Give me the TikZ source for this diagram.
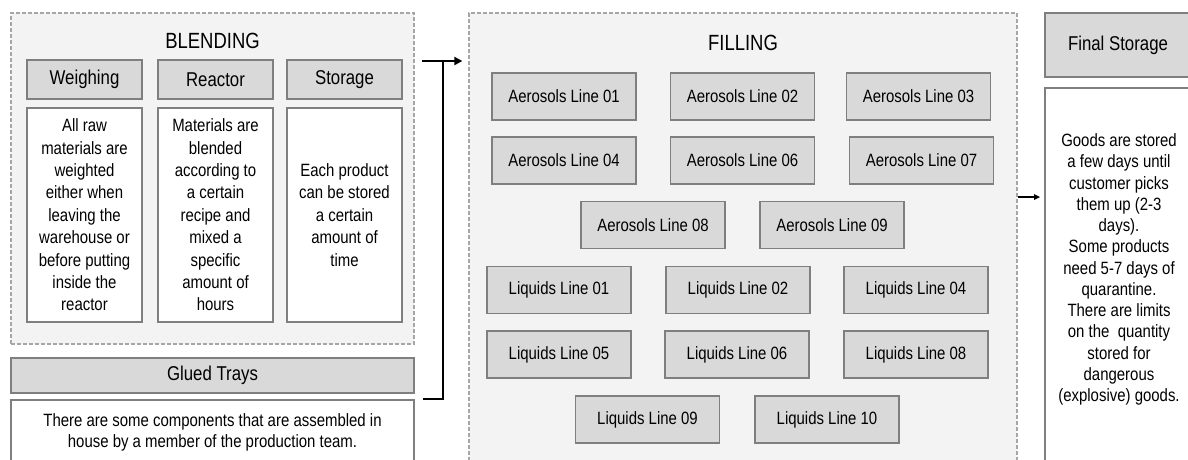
\documentclass[tikz,border=0pt]{standalone}
\usepackage{fontspec}
\setmainfont{Liberation Sans}[FakeStretch=0.84]
\usetikzlibrary{arrows.meta}

\definecolor{boxgray}{HTML}{D9D9D9}
\definecolor{edgegray}{HTML}{7F7F7F}
\definecolor{areagray}{HTML}{F3F3F3}
\definecolor{dashgray}{HTML}{A6A6A6}

\tikzset{
  areabox/.style={draw=dashgray, fill=areagray, line width=1.3pt, dash pattern=on 4pt off 2pt},
  titletext/.style={font=\fontsize{22}{26}\selectfont},
  hdbox/.style={draw=edgegray, fill=boxgray, line width=1.8pt, font=\fontsize{20}{24}\selectfont},
  txtbox/.style={draw=edgegray, fill=white, line width=1.8pt, align=center, font=\fontsize{17.8}{22.4}\selectfont},
  bodytext/.style={align=center, font=\fontsize{17.8}{21.25}\selectfont},
  linebox/.style={draw=edgegray, fill=boxgray, line width=1.8pt, minimum width=144pt, minimum height=47pt, font=\fontsize{17.8}{21}\selectfont},
  flow/.style={line width=2pt, -{Triangle[length=8pt,width=8pt]}},
  smallflow/.style={line width=1.3pt, -{Triangle[length=6pt,width=5.5pt]}}
}

\begin{document}
\begin{tikzpicture}[x=1pt, y=-1pt]
    \useasboundingbox (0,0) rectangle (1188,459);

    % Blending
    \node[areabox, minimum width=403pt, minimum height=331pt] (blend) at (212.5,178.5) {};
    \node[titletext] (blendtitle) at (212.5,41) {BLENDING};
    \node[hdbox, minimum width=115pt, minimum height=39pt] (weigh) at (84.5,79.5) {Weighing};
    \node[hdbox, minimum width=115pt, minimum height=39pt] (reactor) at (215.5,79.5) {Reactor};
    \node[hdbox, minimum width=115pt, minimum height=39pt] (storage) at (344.5,79.5) {Storage};
    \node[txtbox, minimum width=115pt, minimum height=214pt] (weightxt) at (84.5,215) {All raw\\materials are\\weighted\\either when\\leaving the\\warehouse or\\before putting\\inside the\\reactor};
    \node[txtbox, minimum width=115pt, minimum height=214pt] (reactortxt) at (215.5,215) {Materials are\\blended\\according to\\a certain\\recipe and\\mixed a\\specific\\amount of\\hours};
    \node[txtbox, minimum width=115pt, minimum height=214pt] (storagetxt) at (344.5,215) {Each product\\can be stored\\a certain\\amount of\\time};

    % Glued trays
    \node[hdbox, minimum width=403pt, minimum height=35pt] (glued) at (212.5,375.5) {Glued Trays};
    \node[txtbox, minimum width=403pt, minimum height=65pt, font=\fontsize{17.8}{21.3}\selectfont] (gluedtxt) at (212.5,432.5) {There are some components that are assembled in\\house by a member of the production team.};

    % Filling
    \node[areabox, minimum width=548pt, minimum height=470pt] (fill) at (743,248) {};
    \node[titletext] (filltitle) at (743,43) {FILLING};
    \node[linebox] (aero01) at (564,96.5) {Aerosols Line 01};
    \node[linebox] (aero02) at (742.5,96.5) {Aerosols Line 02};
    \node[linebox] (aero03) at (918.5,96.5) {Aerosols Line 03};
    \node[linebox] (aero04) at (564,160.5) {Aerosols Line 04};
    \node[linebox] (aero06) at (742.5,160.5) {Aerosols Line 06};
    \node[linebox] (aero07) at (921.5,160.5) {Aerosols Line 07};
    \node[linebox] (aero08) at (653,225) {Aerosols Line 08};
    \node[linebox] (aero09) at (832,225) {Aerosols Line 09};
    \node[linebox] (liq01) at (559,290) {Liquids Line 01};
    \node[linebox] (liq02) at (738,290) {Liquids Line 02};
    \node[linebox] (liq04) at (916,290) {Liquids Line 04};
    \node[linebox] (liq05) at (559,354.5) {Liquids Line 05};
    \node[linebox] (liq06) at (737,354.5) {Liquids Line 06};
    \node[linebox] (liq08) at (916,354.5) {Liquids Line 08};
    \node[linebox] (liq09) at (647.5,419.5) {Liquids Line 09};
    \node[linebox] (liq10) at (827,419.5) {Liquids Line 10};

    % Final storage
    \node[hdbox, minimum width=146pt, minimum height=64pt] (final) at (1118,45) {Final Storage};
    \node[txtbox, minimum width=146pt, minimum height=400pt, anchor=north] (finalbox) at (1118,87) {};
    \node[bodytext] (finaltxt) at (1119,269.5) {Goods are stored\\a few days until\\customer picks\\them up (2-3\\days).\\Some products\\need 5-7 days of\\quarantine.\\There are limits\\on the\ \ quantity\\stored for\\dangerous\\(explosive) goods.};

    % Arrows
    \coordinate (jtop) at (422,61);
    \coordinate (jbot) at (423,399);
    \coordinate (jmid) at (443,61);
    \draw[line width=2pt] (jbot) -| (jmid);
    \draw[flow, shorten >=6pt] (jtop) -- (fill.west |- jtop);
    \coordinate (fout) at (fill.east |- 0,197);
    \draw[smallflow, shorten >=4pt] (fout) -- (finalbox.west |- fout);
\end{tikzpicture}
\end{document}
